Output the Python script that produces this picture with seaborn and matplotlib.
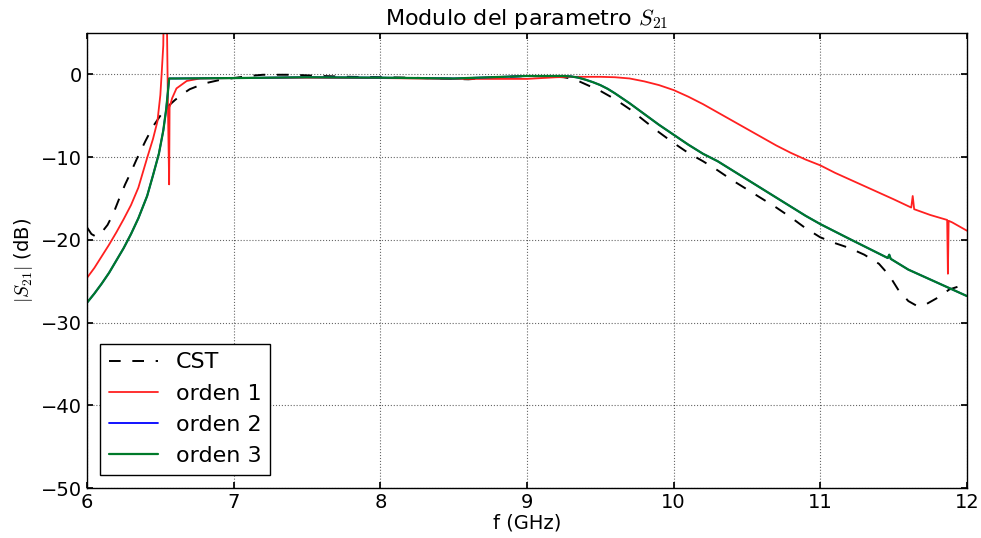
import matplotlib
matplotlib.use("Agg")
import matplotlib.pyplot as plt
import seaborn as sns
import numpy as np

sns.set_theme(style="white", rc={
    'axes.edgecolor': 'black',
    'axes.linewidth': 1.0,
    'xtick.direction': 'in',
    'ytick.direction': 'in',
    'xtick.bottom': True,
    'ytick.left': True,
    'xtick.top': True,
    'ytick.right': True,
    'xtick.major.size': 4,
    'ytick.major.size': 4,
    'xtick.color': 'black',
    'ytick.color': 'black',
    'text.color': 'black',
    'axes.labelcolor': 'black',
})
plt.rcParams['font.family'] = ['DejaVu Sans']
plt.rcParams['mathtext.fontset'] = 'cm'

# CST simulation
f_cst = [6.0, 6.03, 6.06, 6.1, 6.14, 6.18, 6.22, 6.26, 6.3, 6.34, 6.4, 6.45, 6.5, 6.55,
         6.6, 6.65, 6.7, 6.8, 6.9, 7.0, 7.1, 7.2, 7.4, 7.6, 7.8, 8.0, 8.2, 8.4, 8.6, 8.8,
         9.0, 9.15, 9.25, 9.3, 9.35, 9.4, 9.5, 9.6, 9.7, 9.8, 9.9, 10.0, 10.1, 10.2,
         10.3, 10.4, 10.5, 10.6, 10.7, 10.8, 10.9, 11.0, 11.1, 11.2, 11.3, 11.4, 11.47,
         11.53, 11.6, 11.66, 11.72, 11.8, 11.88, 11.95, 12.0]
s_cst = [-18.5, -19.3, -19.6, -19.1, -18.2, -16.8, -15.0, -13.3, -11.8, -10.2, -8.0,
         -6.3, -5.0, -3.9, -3.1, -2.4, -1.8, -1.1, -0.7, -0.45, -0.2, -0.05, -0.05,
         -0.2, -0.3, -0.35, -0.4, -0.5, -0.6, -0.35, -0.2, -0.25, -0.35, -0.5, -0.8,
         -1.2, -2.0, -3.0, -4.2, -5.6, -7.0, -8.3, -9.5, -10.5, -11.6, -12.8, -13.9,
         -15.0, -16.1, -17.3, -18.6, -19.7, -20.4, -21.0, -21.8, -22.9, -24.3, -26.0,
         -27.4, -28.0, -27.8, -27.0, -26.0, -25.6, -25.5]

# orden 1
f_o1 = [6.0, 6.05, 6.1, 6.15, 6.2, 6.25, 6.3, 6.35, 6.41, 6.45, 6.48, 6.5, 6.51, 6.52,
        6.535, 6.545, 6.552, 6.56, 6.563, 6.58, 6.61, 6.68, 6.77, 7.0, 7.5, 8.0, 8.5,
        9.0, 9.2, 9.3, 9.5, 9.6, 9.7, 9.8, 9.9, 10.0, 10.1, 10.2, 10.3, 10.4, 10.5,
        10.6, 10.7, 10.8, 10.9, 11.0, 11.1, 11.2, 11.3, 11.4, 11.5, 11.62, 11.63,
        11.64, 11.75, 11.865, 11.87, 11.875, 11.9, 12.0]
s_o1 = [-24.6, -23.4, -22.0, -20.6, -19.1, -17.5, -15.8, -13.7, -10.1, -7.8, -5.7,
        -2.5, 0.4, 3.5, 25.0, 6.0, -4.0, -13.3, -4.0, -2.9, -1.7, -0.8, -0.5, -0.45,
        -0.4, -0.45, -0.55, -0.55, -0.35, -0.3, -0.3, -0.35, -0.5, -0.85, -1.3, -1.9,
        -2.7, -3.6, -4.6, -5.6, -6.6, -7.6, -8.6, -9.5, -10.3, -11.0, -11.9, -12.7,
        -13.5, -14.3, -15.1, -16.1, -14.7, -16.3, -17.0, -17.6, -24.1, -17.7, -17.9,
        -18.9]

# orden 2 / orden 3 (practically identical)
f_o3 = [6.0, 6.05, 6.1, 6.15, 6.2, 6.25, 6.3, 6.35, 6.41, 6.45, 6.49, 6.52, 6.54, 6.55,
        6.556, 6.56, 6.6, 7.0, 7.5, 8.0, 8.5, 9.0, 9.25, 9.3, 9.35, 9.4, 9.45, 9.5,
        9.55, 9.6, 9.7, 9.8, 9.9, 10.0, 10.1, 10.2, 10.3, 10.4, 10.5, 10.6, 10.7, 10.8,
        10.9, 11.0, 11.2, 11.46, 11.47, 11.48, 11.6, 11.8, 12.0]
s_o2 = [-27.6, -26.5, -25.3, -24.0, -22.5, -21.0, -19.3, -17.4, -14.7, -12.2, -9.6,
        -6.8, -4.2, -2.4, -1.3, -0.5, -0.5, -0.45, -0.35, -0.4, -0.5, -0.2, -0.2, -0.25,
        -0.4, -0.65, -0.95, -1.3, -1.75, -2.3, -3.5, -4.8, -6.1, -7.3, -8.5, -9.6,
        -10.5, -11.6, -12.7, -13.8, -14.9, -16.0, -17.1, -18.1, -19.9, -22.2, -21.8,
        -22.3, -23.6, -25.2, -26.8]
s_o3 = list(s_o2)

fig = plt.figure(figsize=(9.81, 5.38), dpi=100)
ax = fig.add_axes([0.0887, 0.0929, 0.897, 0.8458])

sns.lineplot(x=f_cst, y=s_cst, ax=ax, color='black', linestyle='--',
             lw=1.4, label='CST', estimator=None, sort=False)
ax.lines[-1].set_dashes([6, 6])
sns.lineplot(x=f_o1, y=s_o1, ax=ax, color='#ff2020', lw=1.3, label='orden 1',
             estimator=None, sort=False)
sns.lineplot(x=f_o3, y=s_o2, ax=ax, color='#0000ff', lw=1.3, label='orden 2',
             estimator=None, sort=False)
sns.lineplot(x=f_o3, y=s_o3, ax=ax, color='#007a2a', lw=1.6, label='orden 3',
             estimator=None, sort=False)

ax.set_xlim(6, 12)
ax.set_ylim(-50, 5)
ax.set_xticks([6, 7, 8, 9, 10, 11, 12])
ax.set_yticks([-50, -40, -30, -20, -10, 0])
ax.grid(True, color='black', linestyle=':', linewidth=0.8, alpha=0.6)
ax.tick_params(labelsize=14)
ax.set_title('Modulo del parametro $S_{21}$', fontsize=16)
ax.set_xlabel('f (GHz)', fontsize=14, labelpad=1)
ax.set_ylabel('$|S_{21}|$ (dB)', fontsize=14)

leg = ax.legend(loc='lower left', fontsize=16, fancybox=False, framealpha=1,
                edgecolor='black', handlelength=2.2, borderaxespad=0.6)
leg.get_frame().set_linewidth(1.0)

fig.savefig('out.png', dpi=100)
